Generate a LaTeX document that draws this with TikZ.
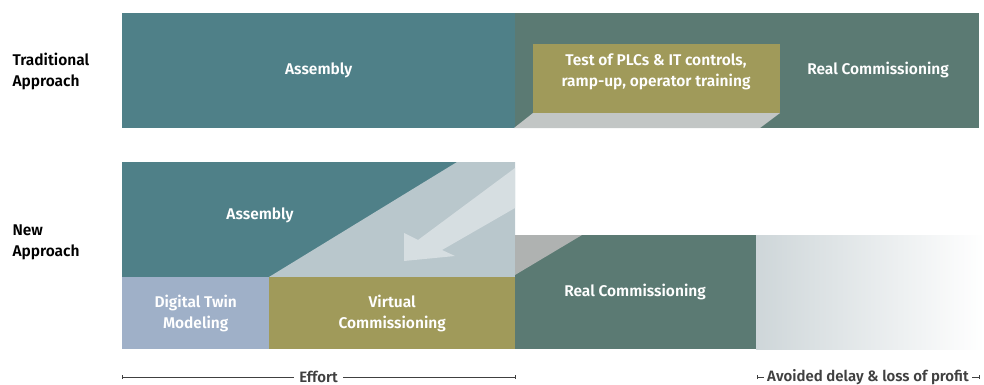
\documentclass[tikz,border=0pt]{standalone}
\usepackage{fontspec}
\setmainfont{Fira Sans}[BoldFont=* SemiBold]
\usetikzlibrary{arrows.meta}
\definecolor{asmteal}{HTML}{4F8088}
\definecolor{rcgreen}{HTML}{5B7A73}
\definecolor{vcolive}{HTML}{A09A5A}
\definecolor{dtblue}{HTML}{9FB0C8}
\definecolor{shiftgrey}{HTML}{B9C7CC}
\definecolor{arrowgrey}{HTML}{D6DEE1}
\definecolor{facegrey}{HTML}{C2C6C5}
\definecolor{fadegrey}{HTML}{CED6D9}
\tikzset{%
	block/.style    = {rectangle, inner sep=0pt, anchor=north west, text=white, align=center, font=\bfseries\fontsize{15.5}{21}\selectfont},
	boxtext/.style  = {text=white, align=center, font=\bfseries\fontsize{15.5}{21}\selectfont},
	rowlabel/.style = {anchor=west, align=left, font=\bfseries\fontsize{15.5}{21}\selectfont},
	span/.style     = {{Bar[width=4pt]}-{Bar[width=4pt]}, thin, black!75},
	spanlabel/.style= {fill=white, inner xsep=5pt, inner ysep=0pt, font=\bfseries\fontsize{15}{16}\selectfont}
}
\begin{document}
\begin{tikzpicture}[x=1pt, y=-1pt]
	\useasboundingbox (0,0) rectangle (984,385);

	% row labels
	\node[rowlabel] (trad) at (9,71) {Traditional\\Approach};
	\node[rowlabel] (new) at (9,242) {New\\Approach};

	% traditional approach: assembly, then commissioning on site
	\node[block, fill=asmteal, minimum width=393pt, minimum height=115pt] (asmA) at (122,13) {Assembly};
	\fill[rcgreen] (515,13) rectangle (979,128);
	\fill[facegrey] (533,113) -- (780,113) -- (760,128) -- (514,128) -- cycle;
	\node[block, fill=vcolive, minimum width=247pt, minimum height=69pt] (test) at (533,44) {};
	\node[boxtext] at (656,72) {Test of PLCs \& IT controls,\\ramp-up, operator training};
	\node[boxtext] (realA) at (878,70) {Real Commissioning};

	% new approach: commissioning moved forward
	\fill[asmteal] (122,162) rectangle (515,277);
	\fill[shiftgrey] (269,277) -- (457,162) -- (515,162) -- (515,277) -- cycle;
	\fill[arrowgrey] (515,168) -- (418,240) -- (404,233) -- (404,261) -- (455,256)
		-- (442,250) -- (515,208) -- cycle;
	\node[boxtext] (asmB) at (260,215) {Assembly};
	\node[block, fill=dtblue, minimum width=147pt, minimum height=72pt] (twin) at (122,277) {Digital Twin\\Modeling};
	\node[block, fill=vcolive, minimum width=246pt, minimum height=72pt] (virt) at (269,277) {Virtual\\Commissioning};
	\fill[rcgreen] (515,235) rectangle (756,349);
	\fill[facegrey!90!black] (515,235) -- (582,235) -- (515,275) -- cycle;
	\node[boxtext] (realB) at (635,292) {Real Commissioning};
	\shade[left color=fadegrey, right color=white] (756,235) rectangle (984,349);

	% spans below the rows
	\coordinate (effortL) at (122,377);
	\coordinate (effortR) at (515,377);
	\coordinate (gainL) at (757,377);
	\coordinate (gainR) at (979,377);
	\draw[span] (effortL) -- node[spanlabel] {Effort} (effortR);
	\draw[span] (gainL) -- node[spanlabel, inner xsep=3pt] {Avoided delay \& loss of profit} (gainR);
\end{tikzpicture}
\end{document}
